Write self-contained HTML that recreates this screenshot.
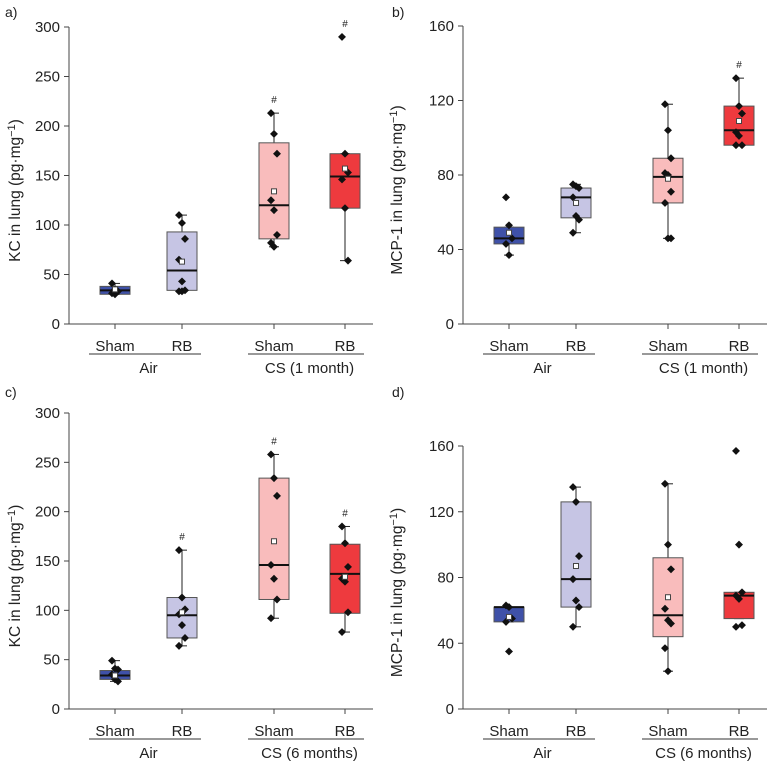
<!DOCTYPE html>
<html><head><meta charset="utf-8"><style>
body{margin:0;background:#fff}
svg text{font-family:"Liberation Sans",sans-serif;fill:#222}
</style></head><body>
<svg id="s" width="768" height="762" viewBox="0 0 768 762" xmlns="http://www.w3.org/2000/svg"></svg>
<script>
const groupLabels=["Sham","RB","Sham","RB"];
const colors=["#3f51a8","#c6c5e4","#f9bcbc","#ee3a3e"];
// panel a
const aBoxes=[[30,34,38],[34,54,93],[86,120,183],[117,149,172]];
const aWhisk=[[30,41],[33,110],[78,213],[64,172]];
const aPts=[[41,35,33,31,30],[110,102,86,65,43,34,33,33],[213,192,172,125,115,90,82,78],[290,172,153,146,117,64]];
const aMean=[35,63,134,157];
const aHash=[null,null,213,290];
// panel b
const bBoxes=[[43,46,52],[57,68,73],[65,79,89],[96,104,117]];
const bWhisk=[[37,52],[49,75],[46,118],[96,132]];
const bPts=[[68,53,46,43,37],[75,74,73,68,58,56,49],[118,104,89,81,80,71,65,46,46],[132,117,113,103,101,96,96]];
const bMean=[49,65,78,109];
const bHash=[null,null,null,132];
// panel c
const cBoxes=[[30,34,39],[72,95,113],[111,146,234],[97,137,167]];
const cWhisk=[[28,49],[64,161],[92,258],[78,185]];
const cPts=[[49,41,40,35,30,28],[161,113,101,96,85,72,64],[258,234,216,146,132,111,92],[185,168,144,132,129,98,78]];
const cMean=[34,98,170,134];
const cHash=[null,161,258,185];
// panel d
const dBoxes=[[53,62,62],[62,79,126],[44,57,92],[55,69,71]];
const dWhisk=[[53,62],[50,135],[23,137],[55,71]];
const dPts=[[63,62,55,53,35],[135,126,93,79,66,62,50],[137,100,85,61,54,52,37,23],[157,100,71,69,67,51,50]];
const dMean=[56,87,68,null];
const dHash=[null,null,null,null];

const S=document.getElementById('s');
const NS="http://www.w3.org/2000/svg";
function mk(tag,at,parent){const e=document.createElementNS(NS,tag);for(const k in at)e.setAttribute(k,at[k]);(parent||S).appendChild(e);return e;}

function panel(o){
  const g=mk('g',{});
  
  
  const y=v=>o.y0+(o.y1-o.y0)*(v/o.max);
  const t=mk('text',{x:o.lx,y:o.ly,'font-size':14},g);t.textContent=o.letter+')';
  
  mk('line',{x1:o.ax,y1:y(o.max),x2:o.ax,y2:o.y0,stroke:'#444','stroke-width':1},g);
  mk('line',{x1:o.ax-5,y1:o.y0,x2:o.xend,y2:o.y0,stroke:'#444','stroke-width':1},g);
  o.ticks.forEach(v=>{
    mk('line',{x1:o.ax-5,y1:y(v),x2:o.ax,y2:y(v),stroke:'#444'},g);
    const tt=mk('text',{x:o.ax-9,y:y(v)+5,'font-size':15,'text-anchor':'end'},g);tt.textContent=v;
    
  });
  const yc=(o.y0+y(o.max))/2+15;
  const yt=mk('text',{x:0,y:0,'font-size':15.5,'text-anchor':'middle',transform:`translate(${o.tx},${yc}) rotate(-90)`},g);
  yt.innerHTML=o.title+' (pg·mg<tspan dy="-5" font-size="11">−1</tspan><tspan dy="5">)</tspan>';
  
  o.gx.forEach((x,i)=>{
    mk('line',{x1:x,y1:o.y0,x2:x,y2:o.y0+5,stroke:'#444'},g);
    const l=mk('text',{x:x,y:o.y0+27,'font-size':15,'text-anchor':'middle'},g);l.textContent=groupLabels[i];
    
    const bx=o.boxes[i],wk=o.whisk[i],hw=15;
    mk('line',{x1:x,y1:y(wk[0]),x2:x,y2:y(wk[1]),stroke:'#222'},g);
    mk('line',{x1:x-5,y1:y(wk[0]),x2:x+5,y2:y(wk[0]),stroke:'#222'},g);
    mk('line',{x1:x-5,y1:y(wk[1]),x2:x+5,y2:y(wk[1]),stroke:'#222'},g);
    const r=mk('rect',{x:x-hw,y:y(bx[2]),width:2*hw,height:y(bx[0])-y(bx[2]),fill:colors[i],stroke:'#555','stroke-width':1},g);
    
    mk('line',{x1:x-hw,y1:y(bx[1]),x2:x+hw,y2:y(bx[1]),stroke:'#111','stroke-width':2},g);
    o.pts[i].forEach((v,j)=>{
      const dx=((j%3)-1)*3;
      const p=mk('rect',{x:x+dx-2.8,y:y(v)-2.8,width:5.6,height:5.6,fill:'#111',transform:`rotate(45 ${x+dx} ${y(v)})`},g);
      
    });
    if(o.mean[i]!=null){const m=mk('rect',{x:x-2.5,y:y(o.mean[i])-2.5,width:5,height:5,fill:'#fff',stroke:'#444','stroke-width':1},g);
      }
    if(o.hash[i]!=null){const h=mk('text',{x:x,y:y(o.hash[i])-10,'font-size':10,'text-anchor':'middle',fill:'#555'},g);h.textContent='#';
      }
  });
  [[0,1,'Air'],[2,3,o.grp]].forEach(([a,b,lab])=>{
    mk('line',{x1:o.gx[a]-26,y1:o.y0+30,x2:o.gx[b]+19,y2:o.y0+30,stroke:'#333'},g);
    const gl=mk('text',{x:(o.gx[a]+o.gx[b])/2,y:o.y0+49,'font-size':15,'text-anchor':'middle'},g);gl.textContent=lab;
    
  });
}
panel({letter:'a',lx:5,ly:17,ax:69,xend:373,y0:324,y1:27,max:300,ticks:[0,50,100,150,200,250,300],tx:20,title:'KC in lung',gx:[115,182,274,345],grp:'CS (1 month)',boxes:aBoxes,whisk:aWhisk,pts:aPts,mean:aMean,hash:aHash});
panel({letter:'b',lx:392,ly:17,ax:463,xend:767,y0:324,y1:26,max:160,ticks:[0,40,80,120,160],tx:402,title:'MCP-1 in lung',gx:[509,576,668,739],grp:'CS (1 month)',boxes:bBoxes,whisk:bWhisk,pts:bPts,mean:bMean,hash:bHash});
panel({letter:'c',lx:5,ly:397,ax:69,xend:373,y0:709,y1:413,max:300,ticks:[0,50,100,150,200,250,300],tx:20,title:'KC in lung',gx:[115,182,274,345],grp:'CS (6 months)',boxes:cBoxes,whisk:cWhisk,pts:cPts,mean:cMean,hash:cHash});
panel({letter:'d',lx:392,ly:397,ax:463,xend:767,y0:709,y1:446,max:160,ticks:[0,40,80,120,160],tx:402,title:'MCP-1 in lung',gx:[509,576,668,739],grp:'CS (6 months)',boxes:dBoxes,whisk:dWhisk,pts:dPts,mean:dMean,hash:dHash});
</script>
</body></html>
